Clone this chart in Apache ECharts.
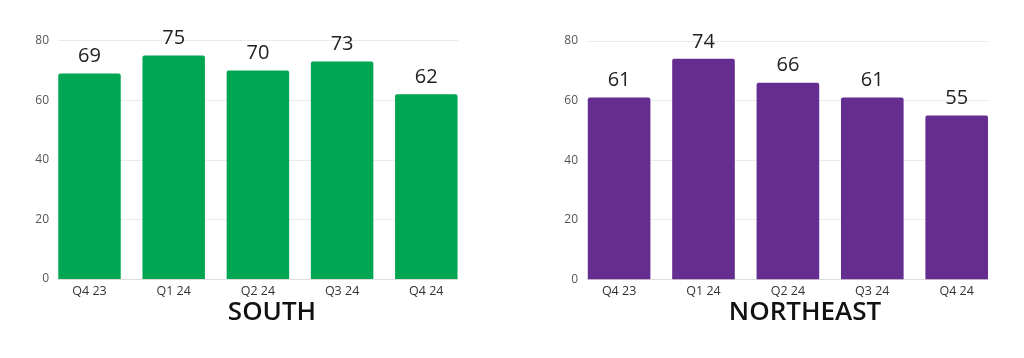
<!DOCTYPE html>
<html>
<head>
<meta charset="utf-8">
<script src="https://cdn.jsdelivr.net/npm/echarts@6/dist/echarts.min.js"></script>
<style>html,body{margin:0;padding:0;background:#fff;}#c{width:1024px;height:358px;}</style>
</head>
<body>
<div id="c"></div>
<script>
const categories = ['Q4 23', 'Q1 24', 'Q2 24', 'Q3 24', 'Q4 24'];
const southValues = [69, 75, 70, 73, 62];
const northeastValues = [61, 74, 66, 61, 55];
const yTicks = [0, 20, 40, 60, 80];
const titles = ['SOUTH', 'NORTHEAST'];

const FONT = '"Open Sans", "Noto Sans", sans-serif';
const chart = echarts.init(document.getElementById('c'), null, {renderer: 'canvas'});

const yMin = yTicks[0], yMax = yTicks[yTicks.length - 1], yInt = yTicks[1] - yTicks[0];

const panels = [
  {axisLeft: 58, axisWidth: 400, barLeft: 47.4, barWidth: 421, top: 40.7, values: southValues, color: '#00A651', titleX: 272, title: titles[0]},
  {axisLeft: 587, axisWidth: 401, barLeft: 576.9, barWidth: 422, top: 41, values: northeastValues, color: '#662D91', titleX: 805, title: titles[1]}
];
const H = 238.3;

const grid = [], xAxis = [], yAxis = [], series = [], title = [];
panels.forEach((p, i) => {
  grid.push({left: p.axisLeft, width: p.axisWidth, top: p.top, height: H});
  grid.push({left: p.barLeft, width: p.barWidth, top: p.top, height: H});
  const ga = i * 2, gb = i * 2 + 1;
  xAxis.push({gridIndex: ga, type: 'value', min: 0, max: 1, axisLabel: {show: false}, axisTick: {show: false}, splitLine: {show: false},
    axisLine: {show: true, lineStyle: {color: '#dddddd', width: 1}}});
  yAxis.push({gridIndex: ga, type: 'value', min: yMin, max: yMax, interval: yInt,
    axisLine: {show: false}, axisTick: {show: false},
    axisLabel: {color: '#555', fontSize: 12, fontFamily: FONT, margin: 9},
    splitLine: {lineStyle: {color: '#ebebeb', width: 1}}});
  xAxis.push({gridIndex: gb, type: 'category', data: categories,
    axisLine: {show: false}, axisTick: {show: false},
    axisLabel: {color: '#333', fontSize: 12.5, fontFamily: FONT, margin: 6}});
  yAxis.push({gridIndex: gb, type: 'value', min: yMin, max: yMax, show: false});
  series.push({type: 'bar', xAxisIndex: gb, yAxisIndex: gb, data: p.values, barCategoryGap: '25.8%',
    itemStyle: {color: p.color, borderRadius: [2, 2, 0, 0]},
    label: {show: true, position: 'top', distance: 7, color: '#222', fontSize: 20, fontFamily: FONT},
    animation: false});
  title.push({text: p.title, left: p.titleX, top: 300, padding: 0, textAlign: 'center',
    textStyle: {fontSize: 26, fontWeight: 600, color: '#111', fontFamily: '"Open Sans", Lato, sans-serif'}});
});

chart.setOption({animation: false, backgroundColor: '#ffffff', title, grid, xAxis, yAxis, series});
</script>
</body>
</html>
